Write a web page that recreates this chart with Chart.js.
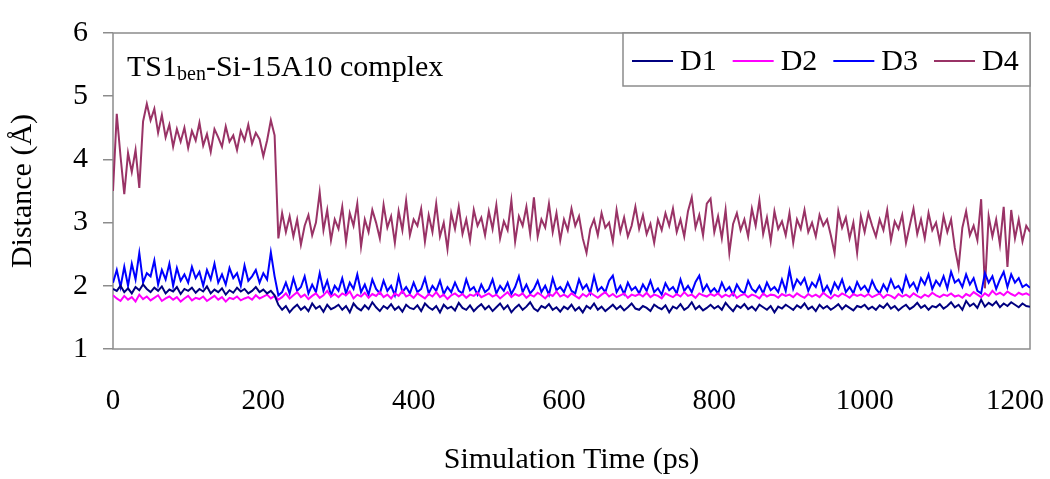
<!DOCTYPE html>
<html>
<head>
<meta charset="utf-8">
<script src="https://cdn.jsdelivr.net/npm/chart.js@4"></script>
<style>
  body { margin: 0; background: #fff; }
  #wrap { width: 1050px; height: 479px; }
</style>
</head>
<body>
<div id="wrap"><canvas id="distChart" width="1050" height="479"></canvas></div>
<script>
// sampling interval of the trajectory (ps)
const timeStep = 5;
const seriesNames = ['D1', 'D2', 'D3', 'D4'];
const yTicks = [1, 2, 3, 4, 5, 6];
const xTicks = [0, 200, 400, 600, 800, 1000, 1200];

// distances in Angstrom, one value every 5 ps from 0 to 1220 ps
const d1 = [
  1.95, 1.92, 2.00, 1.90, 1.96, 1.88, 1.98, 1.93, 2.02, 1.95, 1.90, 1.97, 1.92, 1.99, 1.88, 1.94, 1.91, 1.98, 1.87, 1.95,
  1.92, 1.97, 1.89, 1.95, 1.91, 1.99, 1.88, 1.94, 1.90, 1.96, 1.86, 1.93, 1.89, 1.97, 1.91, 1.95, 1.88, 1.92, 1.98, 1.90,
  1.94, 1.88, 1.92, 1.85, 1.70, 1.62, 1.68, 1.58, 1.65, 1.70, 1.62, 1.67, 1.60, 1.72, 1.64, 1.68, 1.59, 1.70, 1.63, 1.66,
  1.70, 1.62, 1.68, 1.58, 1.72, 1.65, 1.61, 1.69, 1.63, 1.74, 1.66, 1.60, 1.68, 1.64, 1.71, 1.62, 1.67, 1.59, 1.70, 1.65,
  1.63, 1.69, 1.60, 1.72, 1.66, 1.62, 1.68, 1.58, 1.70, 1.64, 1.67, 1.61, 1.73, 1.65, 1.62, 1.69, 1.60, 1.66, 1.71, 1.63,
  1.68, 1.60, 1.66, 1.72, 1.63, 1.69, 1.58, 1.65, 1.70, 1.62, 1.67, 1.74, 1.64, 1.60, 1.68, 1.65, 1.71, 1.62, 1.66, 1.59,
  1.67, 1.63, 1.70, 1.61, 1.66, 1.58, 1.68, 1.64, 1.72, 1.62, 1.67, 1.60, 1.65, 1.70, 1.63, 1.68, 1.61, 1.66, 1.72, 1.64,
  1.62, 1.68, 1.65, 1.60, 1.70, 1.66, 1.63, 1.69, 1.58, 1.67, 1.64, 1.71, 1.62, 1.66, 1.74, 1.63, 1.68, 1.61, 1.65, 1.70,
  1.64, 1.68, 1.62, 1.73, 1.66, 1.60, 1.69, 1.65, 1.71, 1.63, 1.67, 1.61, 1.70, 1.66, 1.62, 1.68, 1.58, 1.67, 1.64, 1.70,
  1.66, 1.62, 1.69, 1.65, 1.72, 1.63, 1.67, 1.60, 1.70, 1.64, 1.68, 1.62, 1.66, 1.71, 1.63, 1.69, 1.65, 1.61, 1.68, 1.66,
  1.70, 1.63, 1.67, 1.62, 1.69, 1.65, 1.72, 1.64, 1.68, 1.61, 1.66, 1.70, 1.63, 1.67, 1.73, 1.65, 1.69, 1.62, 1.68, 1.66,
  1.71, 1.64, 1.68, 1.74, 1.66, 1.70, 1.62, 1.76, 1.68, 1.72, 1.65, 1.78, 1.67, 1.73, 1.69, 1.75, 1.66, 1.72, 1.68, 1.74,
  1.70, 1.66, 1.72, 1.68, 1.67
];
const d2 = [
  1.85, 1.80, 1.76, 1.84, 1.78, 1.82, 1.75, 1.86, 1.79, 1.83, 1.77, 1.81, 1.85, 1.76, 1.80, 1.83, 1.78, 1.82, 1.75, 1.80,
  1.84, 1.77, 1.81, 1.79, 1.83, 1.76, 1.80, 1.84, 1.78, 1.82, 1.75, 1.81, 1.79, 1.83, 1.77, 1.80, 1.82, 1.78, 1.85, 1.80,
  1.83, 1.86, 1.80, 1.84, 1.78, 1.82, 1.88, 1.80, 1.85, 1.90, 1.82, 1.86, 1.79, 1.84, 1.88, 1.81, 1.85, 1.92, 1.83, 1.87,
  1.82, 1.88, 1.85, 1.91, 1.80, 1.86, 1.83, 1.89, 1.81, 1.87, 1.84, 1.90, 1.82, 1.86, 1.80, 1.88, 1.84, 1.92, 1.83, 1.86,
  1.81, 1.88, 1.84, 1.80, 1.87, 1.83, 1.90, 1.82, 1.86, 1.79, 1.85, 1.88, 1.83, 1.87, 1.81, 1.86, 1.84, 1.89, 1.82, 1.85,
  1.88, 1.83, 1.86, 1.80, 1.85, 1.90, 1.82, 1.87, 1.84, 1.88, 1.81, 1.86, 1.83, 1.89, 1.85, 1.80, 1.87, 1.84, 1.91, 1.83,
  1.86, 1.82, 1.88, 1.84, 1.80, 1.87, 1.83, 1.89, 1.85, 1.81, 1.86, 1.90, 1.83, 1.87, 1.82, 1.85, 1.88, 1.81, 1.86, 1.84,
  1.87, 1.83, 1.89, 1.82, 1.86, 1.84, 1.80, 1.88, 1.85, 1.82, 1.87, 1.83, 1.90, 1.84, 1.86, 1.81, 1.88, 1.85, 1.83, 1.87,
  1.84, 1.88, 1.82, 1.86, 1.83, 1.89, 1.81, 1.85, 1.87, 1.82, 1.86, 1.84, 1.80, 1.88, 1.83, 1.86, 1.85, 1.81, 1.87, 1.84,
  1.86, 1.82, 1.88, 1.84, 1.81, 1.87, 1.83, 1.86, 1.82, 1.89, 1.84, 1.80, 1.86, 1.83, 1.88, 1.85, 1.81, 1.87, 1.84, 1.86,
  1.83, 1.87, 1.82, 1.85, 1.88, 1.81, 1.86, 1.84, 1.80, 1.87, 1.83, 1.86, 1.82, 1.88, 1.84, 1.81, 1.86, 1.83, 1.89, 1.85,
  1.82, 1.86, 1.84, 1.88, 1.83, 1.85, 1.81, 1.87, 1.84, 1.90, 1.86, 1.82, 1.88, 1.84, 1.92, 1.86, 1.89, 1.85, 1.91, 1.87,
  1.84, 1.89, 1.86, 1.88, 1.85
];
const d3 = [
  2.05, 2.25, 1.98, 2.30, 2.00, 2.35, 2.10, 2.52, 2.05, 2.20, 2.15, 2.40, 2.02, 2.25, 2.10, 2.35, 2.00, 2.28, 2.08, 2.18,
  2.05, 2.30, 2.12, 2.22, 2.00, 2.25, 2.10, 2.35, 2.05, 2.18, 2.02, 2.28, 2.12, 2.20, 2.00, 2.32, 2.08, 2.15, 2.25, 2.05,
  2.20, 2.10, 2.53, 2.15, 1.85, 1.90, 2.05, 1.88, 2.12, 1.92, 1.98, 2.15, 1.88, 2.02, 1.90, 2.20, 1.92, 2.08, 1.85, 2.00,
  1.92, 2.12, 1.88, 2.05, 1.95, 2.18, 1.90, 2.02, 1.86, 2.10, 1.95, 1.88, 2.08, 1.92, 2.00, 1.85, 2.15, 1.90, 1.98, 1.88,
  2.05, 1.90, 1.95, 2.12, 1.88, 2.00, 1.92, 2.08, 1.87, 1.98, 1.90, 2.05, 1.92, 1.88, 2.10, 1.93, 1.98, 1.86, 2.02, 1.90,
  1.95, 2.10, 1.88, 2.00, 1.92, 2.05, 1.87, 1.98, 2.15, 1.90, 2.02, 1.88, 1.95, 2.08, 1.90, 2.00, 1.86, 2.12, 1.93, 1.98,
  1.90, 2.05, 1.92, 1.88, 2.10, 1.95, 2.02, 1.88, 2.15, 1.92, 1.98, 1.90, 2.08, 2.16, 1.90, 2.00, 1.87, 2.05, 1.93, 1.98,
  1.88, 2.02, 1.92, 2.08, 1.90, 1.96, 1.86, 2.04, 1.93, 1.98, 1.88, 2.10, 1.92, 2.00, 1.90, 2.06, 2.16, 1.92, 2.02, 1.90,
  1.96, 1.88, 2.05, 1.92, 1.98, 1.86, 2.02, 1.92, 1.88, 2.08, 1.95, 1.90, 2.00, 1.88, 2.05, 1.93, 1.98, 1.90, 2.10, 1.92,
  2.25, 1.95, 2.10, 2.02, 2.12, 1.92, 2.05, 1.98, 2.15, 1.90, 2.00, 1.88, 2.05, 1.95, 2.10, 1.90, 1.98, 1.88, 2.06, 1.94,
  2.00, 1.90, 2.08, 1.95, 1.88, 2.02, 1.92, 2.10, 1.96, 2.00, 1.90, 2.15, 1.98, 2.05, 1.92, 2.12, 2.02, 2.18, 1.95, 2.08,
  2.00, 2.15, 1.96, 2.22, 2.05, 2.10, 1.98, 2.18, 2.02, 2.12, 1.92, 1.88, 2.20, 2.05, 2.15, 1.95, 2.10, 2.22, 1.98, 2.18,
  2.05, 2.12, 1.98, 2.02, 1.97
];
const d4 = [
  3.50, 4.72, 4.05, 3.45, 4.10, 3.80, 4.15, 3.55, 4.60, 4.88, 4.62, 4.80, 4.42, 4.70, 4.35, 4.55, 4.20, 4.48, 4.28, 4.50,
  4.18, 4.45, 4.30, 4.58, 4.22, 4.40, 4.12, 4.48, 4.35, 4.20, 4.52, 4.28, 4.38, 4.15, 4.45, 4.30, 4.55, 4.25, 4.42, 4.32,
  4.05, 4.30, 4.62, 4.38, 2.75, 3.15, 2.85, 3.10, 2.78, 3.05, 2.65, 2.95, 3.12, 2.80, 3.00, 3.48, 2.88, 3.20, 2.72, 3.05,
  2.90, 3.25, 2.70, 3.15, 2.95, 3.30, 2.62, 3.05, 2.85, 3.20, 3.00, 2.75, 3.28, 2.92, 3.10, 2.68, 3.18, 2.88, 3.35, 2.80,
  3.05, 2.95, 3.22, 2.70, 3.12, 2.85, 3.30, 2.78, 3.00, 2.58, 3.15, 2.90, 3.25, 2.82, 3.05, 2.72, 3.20, 2.95, 3.08, 2.80,
  3.18, 2.90, 3.28, 2.75, 3.02, 2.88, 3.35, 2.70, 3.10, 2.95, 3.25, 2.82, 3.40, 2.78, 3.05, 2.92, 3.30, 2.85, 3.15, 2.72,
  3.05, 2.88, 3.22, 2.95, 3.10, 2.75, 2.52, 2.90, 3.05, 2.80, 3.15, 2.92, 3.00, 2.70, 3.20, 2.85, 3.08, 2.78, 2.95, 3.25,
  2.90, 3.12, 2.82, 2.98, 2.68, 3.05, 2.88, 3.15, 2.95, 3.22, 2.85, 3.05, 2.78, 3.18, 3.40, 2.92, 3.12, 2.80, 3.30, 3.38,
  2.85, 3.10, 2.75, 3.20, 2.52, 2.98, 3.15, 2.88, 3.05, 2.78, 3.22, 2.95, 3.35, 2.82, 3.08, 2.70, 3.18, 2.90, 3.02, 2.80,
  3.15, 2.68, 3.05, 2.90, 3.20, 2.85, 3.00, 2.78, 3.12, 2.95, 3.05, 2.80, 2.52, 3.18, 2.92, 3.08, 2.75, 3.00, 2.52, 3.10,
  2.85, 3.15, 2.95, 2.78, 3.05, 2.88, 3.20, 2.72, 3.02, 2.90, 3.12, 2.68, 2.95, 3.22, 2.82, 3.05, 2.75, 3.15, 2.88, 3.00,
  2.70, 3.10, 2.85, 3.05, 2.60, 2.29, 2.92, 3.18, 2.80, 2.95, 2.72, 3.37, 1.96, 3.10, 2.78, 3.05, 2.65, 3.25, 2.30, 3.20,
  2.75, 3.05, 2.70, 2.95, 2.85
];

const seriesColors = ['#000080', '#ff00ff', '#0000ff', '#993366'];
const serifFont = '"Liberation Serif", "DejaVu Serif", serif';

function toPoints(values) {
  return values.map((v, i) => ({ x: i * timeStep, y: v }));
}

// plot frame, caption and boxed legend drawn like the original
const framePlugin = {
  id: 'frame',
  beforeDatasetsDraw(chart) {
    const { ctx, chartArea: a } = chart;
    ctx.save();
    ctx.strokeStyle = '#8c8c8c';
    ctx.lineWidth = 1.5;
    ctx.strokeRect(a.left, a.top, a.right - a.left, a.bottom - a.top);
    ctx.restore();
  },
  afterDatasetsDraw(chart) {
    const { ctx, chartArea: a } = chart;
    ctx.save();
    // caption with subscript
    ctx.fillStyle = '#000';
    ctx.textBaseline = 'alphabetic';
    let x = a.left + 14;
    const base = a.top + 43;
    ctx.font = '30px ' + serifFont;
    ctx.fillText('TS1', x, base);
    x += ctx.measureText('TS1').width;
    ctx.font = '20px ' + serifFont;
    ctx.fillText('ben', x, base + 4);
    x += ctx.measureText('ben').width;
    ctx.font = '30px ' + serifFont;
    ctx.fillText('-Si-15A10 complex', x, base);

    // legend box in the top right corner
    const boxW = 407, boxH = 53;
    const bx = a.right - boxW, by = a.top;
    ctx.fillStyle = '#fff';
    ctx.fillRect(bx, by, boxW, boxH);
    ctx.strokeStyle = '#8c8c8c';
    ctx.lineWidth = 1.5;
    ctx.strokeRect(bx, by, boxW, boxH);
    ctx.font = '30px ' + serifFont;
    ctx.textBaseline = 'middle';
    let lx = bx + 9;
    const ly = by + 28;
    chart.data.datasets.forEach(ds => {
      ctx.strokeStyle = ds.borderColor;
      ctx.lineWidth = 2;
      ctx.beginPath();
      ctx.moveTo(lx, ly);
      ctx.lineTo(lx + 41, ly);
      ctx.stroke();
      ctx.fillStyle = '#000';
      ctx.fillText(ds.label, lx + 48, ly + 1);
      lx += 48 + ctx.measureText(ds.label).width + 16;
    });
    ctx.restore();
  }
};

const allSeries = [d1, d2, d3, d4];

new Chart(document.getElementById('distChart'), {
  type: 'line',
  data: {
    datasets: allSeries.map((vals, i) => ({
      label: seriesNames[i],
      data: toPoints(vals),
      borderColor: seriesColors[i],
      backgroundColor: seriesColors[i],
      borderWidth: 2,
      pointRadius: 0,
      tension: 0,
      fill: false
    }))
  },
  options: {
    responsive: false,
    animation: false,
    devicePixelRatio: 1,
    layout: { padding: { top: 24, right: 20, bottom: 0, left: 0 } },
    plugins: {
      legend: { display: false },
      tooltip: { enabled: false }
    },
    scales: {
      x: {
        type: 'linear',
        min: 0,
        max: 1220,
        afterFit: s => { s.height = 130; s.paddingRight = 0; },
        afterBuildTicks: s => { s.ticks = xTicks.map(v => ({ value: v })); },
        grid: { display: false, drawTicks: false },
        border: { display: false },
        ticks: {
          padding: 35,
          maxRotation: 0,
          color: '#000',
          callback: v => String(v),
          font: { family: serifFont, size: 29 }
        },
        title: {
          display: true,
          text: 'Simulation Time (ps)',
          color: '#000',
          padding: { top: 0, bottom: 1 },
          font: { family: serifFont, size: 30 }
        }
      },
      y: {
        min: 1,
        max: 6,
        afterFit: s => { s.width = 113; },
        afterBuildTicks: s => { s.ticks = yTicks.map(v => ({ value: v })); },
        grid: { drawOnChartArea: false, drawTicks: true, tickLength: 10, color: '#8c8c8c', lineWidth: 1.5 },
        border: { display: false },
        ticks: {
          padding: 15,
          color: '#000',
          callback: v => String(v),
          font: { family: serifFont, size: 30 }
        },
        title: {
          display: true,
          text: 'Distance (Å)',
          color: '#000',
          padding: { top: 5, bottom: 0 },
          font: { family: serifFont, size: 30 }
        }
      }
    }
  },
  plugins: [framePlugin]
});
</script>
</body>
</html>
